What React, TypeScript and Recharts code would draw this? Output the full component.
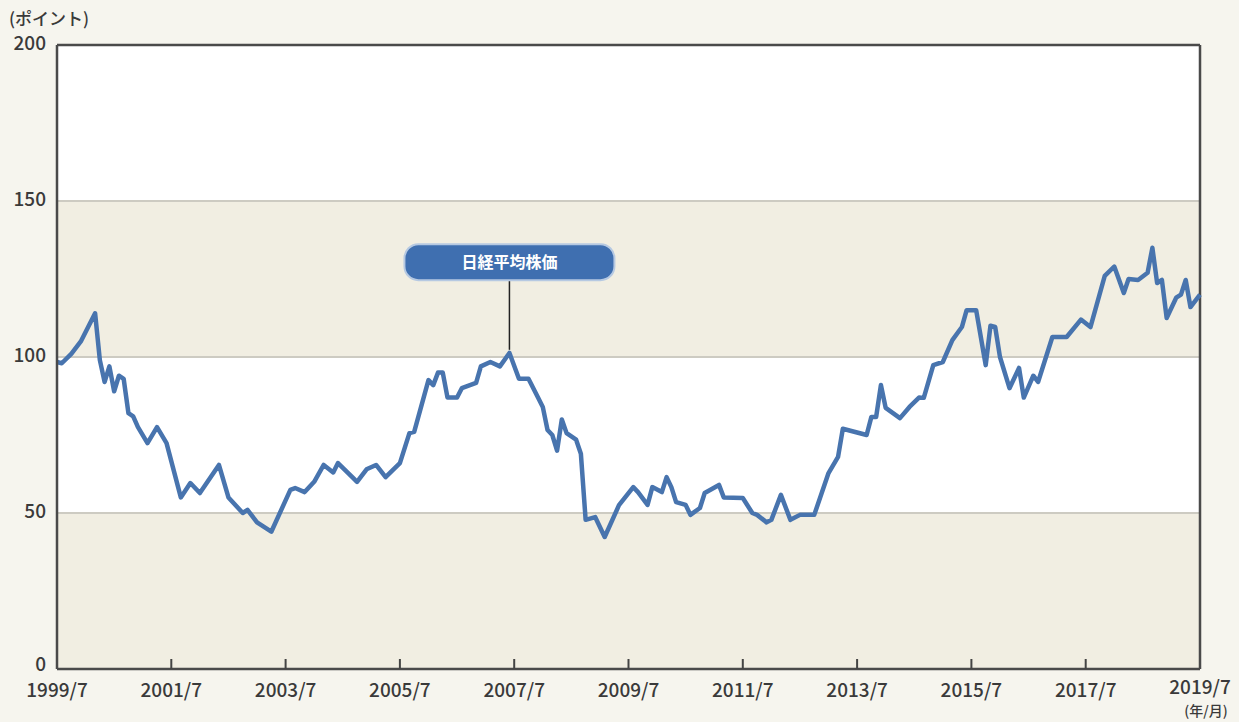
import React from 'react';
import {
  LineChart, Line, XAxis, YAxis, ReferenceArea, ReferenceLine, ReferenceDot,
} from 'recharts';

// months since 1999/7 at the line's turning points
const months = [
  0, 1, 3, 5, 8, 9, 10, 11, 12, 13, 14, 15, 16, 17, 19, 21, 23, 26, 28, 30,
  34, 36, 39, 40, 42, 45, 49, 50, 52, 54, 56, 58, 59, 62, 63, 65, 67, 69, 72, 74,
  75, 78, 79, 80, 81, 82, 84, 85, 88, 89, 91, 93, 95, 97, 99, 101, 102, 103, 104, 105,
  106, 107, 109, 110, 111, 113, 115, 118, 121, 122, 124, 125, 127, 128, 129, 130, 132, 133, 135, 136,
  139, 140, 144, 146, 147, 149, 150, 152, 154, 156, 159, 162, 164, 165, 168, 170, 171, 172, 173, 174,
  177, 179, 181, 182, 184, 186, 188, 190, 191, 193, 195, 196, 197, 198, 200, 202, 203, 205, 206, 209,
  212, 215, 217, 220, 222, 224, 225, 227, 229, 230, 231, 232, 233, 235, 236, 237, 238, 240,
];

const nikkei = [
  98.4, 98, 101, 105, 114, 99, 92, 97, 89, 94, 93, 82, 81, 77.5, 72.4, 77.5, 72.4, 55, 59.6, 56.4,
  65.4, 55, 50, 51, 47, 44, 57.4, 58, 56.7, 60, 65.4, 63, 66, 61.5, 60, 64, 65.4, 61.5, 66, 75.6,
  76, 92.6, 91, 95, 95, 87, 87, 90, 91.7, 97, 98.4, 97, 101.3, 93, 93, 87, 84, 76.6, 75, 70,
  80, 75.6, 73.5, 69, 47.8, 48.7, 42.3, 52.5, 58.3, 56.7, 52.6, 58.3, 56.7, 61.5, 58.3, 53.5, 52.6, 49.4, 51.6, 56.4,
  59, 55, 54.8, 50, 49.4, 47, 47.8, 55.8, 47.8, 49.4, 49.4, 62.8, 68, 77, 75.8, 75, 80.8, 80.8, 91, 83.7,
  80.4, 84, 87, 86.9, 97.4, 98.4, 105.4, 109.6, 115, 115, 97.4, 110, 109.6, 100, 90, 96.5, 87, 94, 92, 106.4,
  106.4, 112, 109.6, 126, 129, 120.5, 125, 124.7, 127, 135, 123.7, 124.7, 112.5, 119, 120, 124.7, 116, 120,
];

const xTicks = [0, 24, 48, 72, 96, 120, 144, 168, 192, 216, 240];
const xTickLabels = [
  '1999/7', '2001/7', '2003/7', '2005/7', '2007/7', '2009/7',
  '2011/7', '2013/7', '2015/7', '2017/7', '2019/7',
];
const yTicks = [0, 50, 100, 150, 200];

const seriesName = '日経平均株価';
const peakMonth = 95;
const peakValue = 101.3;

const data = months.map((m, i) => ({ m, v: nikkei[i] }));

const FONT = '"Noto Sans CJK JP", "Noto Sans", sans-serif';
const BG = '#f6f5ee';
const BAND = '#f1eee2';
const TEXT = '#3a3a3a';

function XTick(props: any) {
  const { x, y, payload } = props;
  const idx = xTicks.indexOf(payload.value);
  const last = idx === xTicks.length - 1;
  const edge = idx === 0 || last;
  return (
    <g>
      {!edge && <line x1={x} x2={x} y1={y} y2={y - 10} stroke="#444" strokeWidth={2} />}
      <text x={x} y={y + (last ? 25 : 28)} textAnchor="middle" fontSize={19} fontWeight={500} fill={TEXT} fontFamily={FONT}>
        {xTickLabels[idx]}
      </text>
      {last && (
        <text x={x + 6} y={y + 47} textAnchor="middle" fontSize={14} fontWeight={500} fill={TEXT} fontFamily={FONT}>
          (年/月)
        </text>
      )}
    </g>
  );
}

function YTick(props: any) {
  const { x, y, payload } = props;
  const dy = payload.value === 0 ? 2 : 5;
  return (
    <text x={x - 11} y={y + dy} textAnchor="end" fontSize={19} fontWeight={500} fill={TEXT} fontFamily={FONT}>
      {payload.value}
    </text>
  );
}

function Pill(props: any) {
  const { cx, cy } = props;
  const w = 210;
  const h = 36;
  return (
    <g>
      <rect x={cx - w / 2} y={cy - h / 2} width={w} height={h} rx={14} ry={14}
        fill="#3f6fb0" stroke="#b6c9e2" strokeWidth={2} />
      <text x={cx} y={cy + 6} textAnchor="middle" fontSize={16} fontWeight={700}
        fill="#ffffff" fontFamily={FONT}>
        {seriesName}
      </text>
    </g>
  );
}

export default function App() {
  return (
    <div style={{ position: 'absolute', left: 0, top: 0, width: 1239, height: 722, background: BG, fontFamily: FONT }}>
      <div style={{ position: 'absolute', left: 9, top: 6, fontSize: 17, fontWeight: 500, color: TEXT, lineHeight: '24px' }}>
        (ポイント)
      </div>
      <LineChart
        width={1239}
        height={722}
        data={data}
        margin={{ top: 45, right: 39, left: 0, bottom: 13 }}
      >
        <ReferenceArea x1={0} x2={240} y1={0} y2={50} fill={BAND} fillOpacity={1} stroke="none" />
        <ReferenceArea x1={0} x2={240} y1={50} y2={100} fill="#ffffff" fillOpacity={1} stroke="none" />
        <ReferenceArea x1={0} x2={240} y1={100} y2={150} fill={BAND} fillOpacity={1} stroke="none" />
        <ReferenceArea x1={0} x2={240} y1={150} y2={200} fill="#ffffff" fillOpacity={1} stroke="none" />
        <ReferenceLine y={50} stroke="#cdcbc2" strokeWidth={2} />
        <ReferenceLine y={100} stroke="#cdcbc2" strokeWidth={2} />
        <ReferenceLine y={150} stroke="#cdcbc2" strokeWidth={2} />
        <XAxis
          type="number"
          dataKey="m"
          domain={[0, 240]}
          ticks={xTicks}
          interval={0}
          height={40}
          tickLine={false}
          tickSize={0}
          tickMargin={0}
          axisLine={{ stroke: '#4a4a4a', strokeWidth: 2.5 }}
          tick={<XTick />}
        />
        <YAxis
          type="number"
          domain={[0, 200]}
          ticks={yTicks}
          interval={0}
          width={57}
          tickLine={false}
          tickSize={0}
          tickMargin={0}
          axisLine={{ stroke: '#4a4a4a', strokeWidth: 2.5 }}
          tick={<YTick />}
        />
        <ReferenceLine x={240} stroke="#4a4a4a" strokeWidth={2.5} />
        <ReferenceLine y={200} stroke="#4a4a4a" strokeWidth={2.5} />
        <ReferenceLine
          segment={[{ x: peakMonth, y: peakValue + 1 }, { x: peakMonth, y: 125 }]}
          stroke="#222"
          strokeWidth={1.5}
        />
        <Line
          type="linear"
          dataKey="v"
          stroke="#4874ae"
          strokeWidth={4.5}
          strokeLinejoin="round"
          dot={false}
          activeDot={false}
          isAnimationActive={false}
        />
        <ReferenceDot x={peakMonth} y={130.4} r={0} shape={<Pill />} />
      </LineChart>
    </div>
  );
}
